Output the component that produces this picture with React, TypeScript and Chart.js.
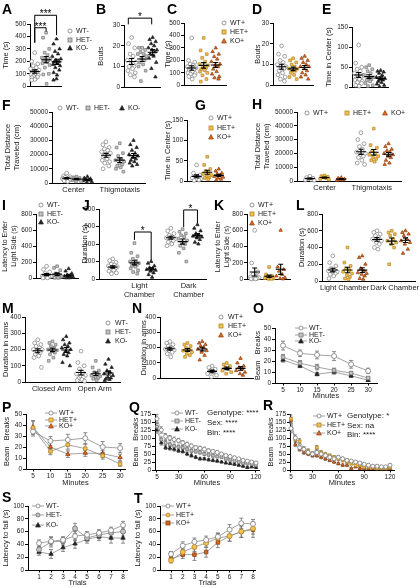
import React, { useEffect, useRef } from "react";
import { Chart, registerables } from "chart.js";
Chart.register(...registerables);

const FONT = "'Liberation Sans', Arial, Helvetica, sans-serif";
Chart.defaults.font.family = FONT;

// ---------------- DATA ----------------
// A: time (s)
const A_WT = [270, 200, 180, 165, 150, 140, 130, 120, 115, 110, 100, 95, 90, 80, 75, 70, 60, 55, 50];
const A_HET = [430, 390, 300, 270, 250, 230, 220, 215, 210, 200, 195, 185, 170, 150, 100, 95, 20];
const A_KO = [380, 340, 300, 280, 260, 240, 220, 210, 200, 195, 185, 175, 165, 150, 130, 110, 90, 60, 50];
// B: bouts
const B_WT = [24, 21, 19, 16, 15, 13, 12, 11, 10, 10, 9, 8, 7, 6, 5];
const B_HET = [19, 19, 18, 17, 16, 16, 15, 14, 13, 12, 11, 10, 8, 3];
const B_KO = [24, 23, 22, 21, 20, 19, 18, 18, 17, 16, 15, 14, 12, 9, 5];
// C: time (s)
const C_WT = [380, 200, 185, 170, 160, 150, 140, 130, 125, 120, 110, 100, 95, 90, 80, 70, 50];
const C_HET = [380, 280, 250, 220, 190, 170, 160, 150, 140, 130, 120, 110, 100, 80, 50, 30];
const C_KO = [300, 270, 250, 230, 210, 190, 170, 160, 150, 130, 110, 90, 70, 60, 50];
// D: bouts
const D_WT = [19, 15, 14, 12, 11, 10, 9, 9, 8, 7, 6, 5, 4, 3, 2];
const D_HET = [13, 12, 11, 10, 9, 8, 8, 7, 7, 6, 5, 4, 3];
const D_KO = [14, 13, 12, 11, 10, 9, 9, 8, 7, 6, 5, 4, 3];
// E: time in center
const E_WT = [105, 60, 50, 45, 40, 35, 30, 28, 25, 22, 20, 18, 15, 12, 10, 5, 3];
const E_HET = [55, 50, 45, 40, 35, 30, 25, 22, 20, 18, 15, 10, 5, 3];
const E_KO = [42, 40, 38, 35, 30, 25, 22, 20, 18, 15, 12, 8, 5, 2];
// F: distance (cm)
const F_C_WT = [7000, 5000, 4500, 4000, 3500, 3000, 3000, 2500, 2000, 1500, 1000];
const F_C_HET = [4500, 4000, 3500, 3000, 2500, 2000, 1500, 1000];
const F_C_KO = [4500, 3500, 3000, 2500, 2000, 1500, 1000, 500];
const F_T_WT = [29000, 27000, 25000, 24000, 23000, 22000, 21000, 20000, 19000, 18000, 17000, 16000, 15000, 14000, 12000, 10000];
const F_T_HET = [28000, 25000, 21000, 19000, 17000, 16000, 15000, 14000, 13000, 12000, 11000, 10000, 8000];
const F_T_KO = [30000, 27000, 25000, 23000, 21000, 20000, 19000, 18000, 17000, 16000, 15000, 14000, 13000, 12000];
// G: time in center
const G_WT = [40, 20, 15, 12, 10, 8, 6, 5, 3, 2];
const G_HET = [60, 40, 30, 25, 20, 18, 15, 12, 10, 8, 5];
const G_KO = [30, 25, 20, 18, 15, 12, 10, 8, 5, 3];
// H: distance (cm)
const H_C_WT = [3500, 2500, 2000, 1500, 1000, 800, 500];
const H_C_HET = [4000, 3500, 3000, 2500, 2000, 1500, 1000];
const H_C_KO = [2500, 2000, 1500, 1000, 800, 500];
const H_T_WT = [35000, 30000, 27000, 25000, 23000, 21000, 20000, 19000, 18000, 17000, 15000, 13000, 12000];
const H_T_HET = [38000, 26000, 24000, 22000, 20000, 19000, 18000, 17000, 16000, 15000, 14000];
const H_T_KO = [27000, 25000, 23000, 22000, 21000, 20000, 19000, 18000, 17000, 15000, 13000, 12000];
// I: latency
const I_WT = [150, 110, 80, 60, 40, 30, 25, 20, 15, 10, 5, 5];
const I_HET = [150, 130, 100, 60, 40, 30, 20, 15, 10, 5, 5];
const I_KO = [120, 90, 60, 40, 30, 25, 20, 15, 10, 5, 5];
// J: duration
const J_L_WT = [230, 210, 190, 170, 160, 150, 140, 130, 120, 110, 100, 90, 70, 60];
const J_L_HET = [410, 300, 260, 230, 210, 200, 180, 170, 160, 150, 140, 120, 100, 80, 60];
const J_L_KO = [200, 180, 150, 130, 120, 110, 100, 90, 70, 50, 20];
const J_D_WT = [580, 550, 520, 500, 480, 470, 460, 450, 440, 420, 400, 380];
const J_D_HET = [570, 540, 520, 500, 480, 460, 440, 420, 400, 380, 350, 300, 200];
const J_D_KO = [620, 580, 550, 520, 500, 490, 480, 470, 450, 420, 400];
// K: latency
const K_WT = [600, 200, 90, 60, 40, 30, 20, 15, 10, 5, 5, 5];
const K_HET = [150, 60, 40, 30, 20, 15, 10, 5, 5];
const K_KO = [600, 150, 120, 100, 60, 40, 20, 10, 5];
// L: duration
const L_L_WT = [300, 220, 180, 150, 130, 120, 110, 100, 90, 80, 60, 30];
const L_L_HET = [400, 220, 180, 150, 130, 110, 90, 70, 50, 30, 20];
const L_L_KO = [300, 280, 200, 150, 120, 100, 90, 80, 60, 30, 20];
const L_D_WT = [600, 580, 560, 540, 520, 500, 480, 460, 440, 400, 380];
const L_D_HET = [600, 580, 560, 540, 500, 480, 460, 440, 400, 200];
const L_D_KO = [600, 580, 560, 540, 500, 480, 460, 440, 380, 330];
// M: duration in arms
const M_C_WT = [260, 240, 230, 220, 210, 200, 200, 190, 180, 170, 160, 150, 90];
const M_C_HET = [250, 240, 230, 220, 210, 200, 195, 190, 180, 170, 150, 130];
const M_C_KO = [280, 260, 240, 230, 220, 210, 200, 190, 180, 170, 160, 120, 100];
const M_O_WT = [190, 120, 100, 80, 60, 50, 40, 35, 30, 20, 15, 10, 5];
const M_O_HET = [130, 90, 70, 60, 50, 40, 35, 30, 25, 20, 10];
const M_O_KO = [140, 110, 90, 70, 60, 50, 40, 30, 25, 20, 15, 10];
// N: duration in arms
const N_1_WT = [240, 230, 220, 210, 200, 190, 185, 180, 170, 160, 140];
const N_1_HET = [230, 220, 210, 200, 190, 180, 170, 160, 150, 140];
const N_1_KO = [240, 230, 220, 210, 200, 190, 180, 170, 150, 120];
const N_2_WT = [80, 70, 60, 50, 40, 30, 20, 10];
const N_2_HET = [100, 90, 80, 70, 60, 50, 40, 30];
const N_2_KO = [130, 100, 80, 70, 60, 50, 40, 30, 20];

// O / P: beam breaks per 5-min bin
const MIN6 = [5, 10, 15, 20, 25, 30];
const O_WT = [34, 27, 25.5, 24.5, 17, 11];
const O_WT_SE = [4, 3, 3.5, 4, 3.5, 2.5];
const O_HET = [23.5, 18, 14.5, 11.5, 9, 4.5];
const O_HET_SE = [2.5, 2.5, 2.5, 2, 1.5, 1];
const O_KO = [21, 15.5, 8, 10, 6.5, 2.5];
const O_KO_SE = [2, 1.5, 1.5, 2, 1.5, 1];
const P_WT = [34, 25.5, 26.5, 28, 20, 19];
const P_WT_SE = [4, 4, 5, 5, 5, 4];
const P_HET = [37.5, 16, 22, 18.5, 12, 4.5];
const P_HET_SE = [6, 3, 4, 4, 3, 2];
const P_KO = [38, 20, 13.5, 14.5, 14, 10.5];
const P_KO_SE = [6, 4, 3, 3, 3, 3];

// Q / R: 24 bins over 120 min
const MIN24 = [5, 10, 15, 20, 25, 30, 35, 40, 45, 50, 55, 60, 65, 70, 75, 80, 85, 90, 95, 100, 105, 110, 115, 120];
const Q_WT = [160, 125, 105, 100, 95, 92, 85, 80, 75, 70, 68, 65, 60, 58, 55, 50, 45, 42, 38, 35, 30, 28, 25, 22];
const Q_WT_SE = [14, 10, 9, 8, 8, 7, 7, 7, 6, 6, 6, 6, 6, 5, 5, 5, 5, 5, 5, 4, 4, 4, 4, 4];
const Q_HET = [135, 95, 85, 80, 75, 72, 70, 65, 60, 58, 55, 50, 48, 45, 42, 40, 35, 32, 28, 25, 22, 20, 18, 15];
const Q_HET_SE = [12, 8, 7, 7, 6, 6, 6, 6, 5, 5, 5, 5, 5, 5, 4, 4, 4, 4, 4, 4, 3, 3, 3, 3];
const Q_KO = [125, 85, 70, 68, 65, 60, 58, 50, 45, 40, 35, 35, 32, 30, 28, 25, 22, 20, 18, 15, 12, 8, 10, 8];
const Q_KO_SE = [10, 7, 6, 6, 6, 5, 5, 5, 5, 4, 4, 4, 4, 4, 4, 3, 3, 3, 3, 3, 3, 3, 3, 3];
const R_WT = [130, 100, 70, 65, 55, 50, 55, 50, 45, 40, 35, 40, 35, 30, 28, 25, 22, 18, 15, 12, 12, 10, 10, 15];
const R_WT_SE = [14, 10, 8, 7, 7, 6, 7, 6, 6, 5, 5, 5, 5, 5, 4, 4, 4, 4, 4, 3, 3, 3, 3, 4];
const R_HET = [160, 95, 90, 65, 60, 50, 70, 55, 50, 45, 40, 35, 30, 25, 20, 15, 15, 10, 10, 8, 5, 5, 5, 8];
const R_HET_SE = [12, 8, 8, 7, 6, 6, 7, 6, 5, 5, 5, 5, 4, 4, 4, 4, 3, 3, 3, 3, 3, 3, 3, 3];
const R_KO = [155, 80, 65, 55, 50, 45, 45, 40, 35, 30, 25, 20, 15, 15, 5, 10, 5, 5, 5, 5, 5, 5, 5, 5];
const R_KO_SE = [10, 7, 6, 6, 5, 5, 5, 5, 5, 4, 4, 4, 4, 3, 3, 3, 3, 2, 2, 2, 2, 2, 2, 2];

// S / T: rotarod
const TRIALS = [1, 2, 3, 4, 5, 6, 7, 8];
const S_WT = [42, 45, 47, 53, 55, 58, 62, 70];
const S_WT_SE = [5, 6, 5, 7, 5, 5, 5, 6];
const S_HET = [32, 44, 45, 65, 50, 55, 58, 60];
const S_HET_SE = [5, 8, 6, 8, 5, 6, 6, 7];
const S_KO = [28, 25, 35, 41, 48, 52, 50, 50];
const S_KO_SE = [5, 7, 6, 7, 6, 6, 8, 8];
const T_WT = [25, 38, 44, 47, 52, 63, 73, 72];
const T_WT_SE = [4, 6, 6, 6, 6, 8, 8, 7];
const T_HET = [15, 28, 36, 42, 50, 53, 60, 65];
const T_HET_SE = [4, 6, 7, 7, 7, 8, 9, 9];
const T_KO = [17, 24, 24, 28, 43, 53, 60, 63];
const T_KO_SE = [4, 6, 9, 8, 8, 8, 9, 12];

// tick labels
const YT_500 = [0, 100, 200, 300, 400, 500];
const YT_30 = [0, 10, 20, 30];
const YT_150 = [0, 50, 100, 150];
const YT_50K = [0, 10000, 20000, 30000, 40000, 50000];
const YT_800 = [0, 200, 400, 600, 800];
const YT_400 = [0, 100, 200, 300, 400];
const YT_50 = [0, 10, 20, 30, 40, 50];
const YT_175 = [0, 25, 50, 75, 100, 125, 150, 175];
const YT_100 = [0, 20, 40, 60, 80, 100];
const XT_6 = [5, 10, 15, 20, 25, 30];
const XT_24 = [5, 30, 60, 90, 120];
const XT_TR = [1, 2, 3, 4, 5, 6, 7, 8];

// ---------------- STYLES ----------------
type Sty = { bg: string; bd: string; shape: string };
const WT: Sty = { bg: "#ffffff", bd: "#7d7d7d", shape: "circle" };
const HETm: Sty = { bg: "#c4c4c4", bd: "#777777", shape: "rect" };
const HETmC: Sty = { bg: "#c4c4c4", bd: "#6a6a6a", shape: "circle" };
const KOm: Sty = { bg: "#222222", bd: "#222222", shape: "triangle" };
const HETp: Sty = { bg: "#f2c14e", bd: "#b3852a", shape: "rect" };
const HETpC: Sty = { bg: "#f2c14e", bd: "#b3852a", shape: "circle" };
const KOp: Sty = { bg: "#e06a1f", bd: "#8a3c0e", shape: "triangle" };
const KOpR: Sty = { bg: "#d8661e", bd: "#8a3c0e", shape: "rect" };

const JIT = [0, -1, 1, -0.5, 0.5, -1.4, 1.4, -0.2, 0.75, -0.8, 0.3, -1.2, 1.15, -0.4, 0.9, -0.95, 0.15];
const TXT = "#1a1a1a";

// ---------------- CONFIG BUILDERS ----------------
function yScale(s: any) {
  return {
    type: "linear",
    min: 0,
    max: s.yMax,
    afterBuildTicks: (sc: any) => {
      sc.ticks = s.yTicks.map((v: number) => ({ value: v }));
    },
    afterFit: (sc: any) => {
      sc.width = s.padL;
      sc.paddingTop = 0;
      sc.paddingBottom = 0;
    },
    grid: { display: true, drawOnChartArea: false, drawTicks: true, tickLength: 3, color: "#000", lineWidth: 1 },
    border: { display: true, color: "#000", width: 1 },
    ticks: { font: { family: FONT, size: 6.5 }, color: TXT, padding: 1, autoSkip: false, maxRotation: 0, callback: (v: any) => String(v) },
    title: { display: true, text: s.yTitle, font: { family: FONT, size: s.yTitleSize || 7.5 }, color: TXT, padding: 0 },
  };
}

function baseOptions(s: any, scales: any) {
  return {
    responsive: false,
    maintainAspectRatio: false,
    animation: false,
    devicePixelRatio: 1,
    events: [],
    layout: { padding: { top: s.padT, right: s.padR, left: 0, bottom: 0 } },
    plugins: { legend: { display: false }, tooltip: { enabled: false }, title: { display: false } },
    scales,
  };
}

function boxOf(s: any) {
  return {
    left: s.x0 - s.padL,
    top: s.y0 - s.padT,
    width: s.padL + (s.x1 - s.x0) + s.padR,
    height: s.padT + (s.y1 - s.y0) + s.padB,
  };
}

function dotConfig(s: any) {
  const datasets = s.groups.map((g: any) => ({
    type: "scatter",
    data: g.v.map((y: number, i: number) => ({ x: g.pos + JIT[i % JIT.length] * 0.32, y })),
    pointStyle: g.st.shape,
    pointRadius: g.st.shape === "triangle" ? 2.0 : 1.9,
    pointBackgroundColor: g.st.bg,
    pointBorderColor: g.st.bd,
    pointBorderWidth: 0.7,
    backgroundColor: g.st.bg,
    borderColor: g.st.bd,
    clip: false,
  }));
  const labels = s.xLabels || [];
  const plugin = {
    id: "meanSem",
    afterDatasetsDraw(chart: any) {
      const ctx = chart.ctx;
      const xs = chart.scales.x;
      const ys = chart.scales.y;
      ctx.save();
      ctx.strokeStyle = "#000";
      ctx.lineWidth = 1.1;
      for (const g of s.groups) {
        const n = g.v.length;
        const m = g.v.reduce((a: number, b: number) => a + b, 0) / n;
        const sd = Math.sqrt(g.v.reduce((a: number, b: number) => a + (b - m) * (b - m), 0) / (n - 1));
        const se = sd / Math.sqrt(n);
        const px = xs.getPixelForValue(g.pos);
        const pm = ys.getPixelForValue(m);
        const pa = ys.getPixelForValue(m + se);
        const pb = ys.getPixelForValue(Math.max(0, m - se));
        ctx.beginPath();
        ctx.moveTo(px - 5, pm);
        ctx.lineTo(px + 5, pm);
        ctx.moveTo(px, pa);
        ctx.lineTo(px, pb);
        ctx.moveTo(px - 2.5, pa);
        ctx.lineTo(px + 2.5, pa);
        ctx.moveTo(px - 2.5, pb);
        ctx.lineTo(px + 2.5, pb);
        ctx.stroke();
      }
      if (s.brackets) {
        ctx.lineWidth = 1;
        ctx.fillStyle = "#000";
        ctx.font = `10px ${FONT}`;
        ctx.textAlign = "center";
        ctx.textBaseline = "alphabetic";
        for (const b of s.brackets) {
          const xa = xs.getPixelForValue(b.a);
          const xb = xs.getPixelForValue(b.b);
          const py = ys.getPixelForValue(b.y);
          ctx.beginPath();
          ctx.moveTo(xa, ys.getPixelForValue(b.la));
          ctx.lineTo(xa, py);
          ctx.lineTo(xb, py);
          ctx.lineTo(xb, ys.getPixelForValue(b.lb));
          ctx.stroke();
          ctx.fillText(b.t, (xa + xb) / 2, py + 2);
        }
      }
      ctx.restore();
    },
  };
  const scales = {
    x: {
      type: "linear",
      min: 0,
      max: (s.x1 - s.x0) / 10,
      afterBuildTicks: (sc: any) => {
        sc.ticks = labels.length ? labels.map((l: any) => ({ value: l.pos })) : [{ value: 0 }];
      },
      afterFit: (sc: any) => {
        sc.height = s.padB;
        sc.paddingLeft = 0;
        sc.paddingRight = 0;
      },
      grid: { display: false, drawTicks: false },
      border: { display: true, color: "#000", width: 1 },
      ticks: {
        display: labels.length > 0,
        font: { family: FONT, size: 7.5 },
        color: TXT,
        padding: 2,
        autoSkip: false,
        maxRotation: 0,
        minRotation: 0,
        callback: (_v: any, i: number) => (labels[i] ? labels[i].text : ""),
      },
    },
    y: yScale(s),
  };
  return { type: "scatter", data: { datasets }, options: baseOptions(s, scales), plugins: [plugin] };
}

function lineConfig(s: any) {
  const datasets = s.series.map((sr: any) => ({
    type: "scatter",
    showLine: true,
    data: s.xs.map((x: number, i: number) => ({ x, y: sr.y[i] })),
    borderColor: "#8c8c8c",
    borderWidth: s.lw,
    pointStyle: sr.st.shape,
    pointRadius: s.r,
    pointBackgroundColor: sr.st.bg,
    pointBorderColor: sr.st.bd,
    pointBorderWidth: 0.8,
    backgroundColor: sr.st.bg,
    clip: false,
  }));
  const plugin = {
    id: "errBars",
    beforeDatasetsDraw(chart: any) {
      const ctx = chart.ctx;
      const xs = chart.scales.x;
      const ys = chart.scales.y;
      ctx.save();
      ctx.strokeStyle = "#6f6f6f";
      ctx.lineWidth = 0.8;
      for (const sr of s.series) {
        s.xs.forEach((x: number, i: number) => {
          const px = xs.getPixelForValue(x);
          const pa = ys.getPixelForValue(sr.y[i] + sr.se[i]);
          const pb = ys.getPixelForValue(Math.max(0, sr.y[i] - sr.se[i]));
          ctx.beginPath();
          ctx.moveTo(px, pa);
          ctx.lineTo(px, pb);
          ctx.moveTo(px - s.cap, pa);
          ctx.lineTo(px + s.cap, pa);
          ctx.moveTo(px - s.cap, pb);
          ctx.lineTo(px + s.cap, pb);
          ctx.stroke();
        });
      }
      ctx.restore();
    },
  };
  const scales = {
    x: {
      type: "linear",
      min: s.xMin,
      max: s.xMax,
      afterBuildTicks: (sc: any) => {
        sc.ticks = s.xTicks.map((v: number) => ({ value: v }));
      },
      afterFit: (sc: any) => {
        sc.height = s.padB;
        sc.paddingLeft = 0;
        sc.paddingRight = 0;
      },
      grid: { display: true, drawOnChartArea: false, drawTicks: true, tickLength: 2.5, color: "#000", lineWidth: 1 },
      border: { display: true, color: "#000", width: 1 },
      ticks: { font: { family: FONT, size: 6.5 }, color: TXT, padding: 1, autoSkip: false, maxRotation: 0, callback: (v: any) => String(v) },
      title: { display: true, text: s.xTitle, font: { family: FONT, size: 7.5 }, color: TXT, padding: 0 },
    },
    y: yScale(s),
  };
  return { type: "scatter", data: { datasets }, options: baseOptions(s, scales), plugins: [plugin] };
}

// ---------------- PANEL SPECS ----------------
const P3 = { padT: 6, padR: 3, padB: 3 };
const DOTS: any[] = [
  { ...P3, x0: 30, x1: 63, y0: 24, y1: 88, padL: 29, padT: 19, yMax: 500, yTicks: YT_500, yTitle: "Time (s)",
    groups: [{ pos: 0.5, v: A_WT, st: WT }, { pos: 1.7, v: A_HET, st: HETm }, { pos: 2.8, v: A_KO, st: KOm }],
    brackets: [{ a: 0.5, b: 2.8, y: 570, la: 350, lb: 410, t: "***" }, { a: 0.5, b: 1.7, y: 470, la: 350, lb: 440, t: "***" }] },
  { ...P3, x0: 124, x1: 162, y0: 25, y1: 89, padL: 28, padT: 15, yMax: 30, yTicks: YT_30, yTitle: "Bouts",
    groups: [{ pos: 0.8, v: B_WT, st: WT }, { pos: 1.9, v: B_HET, st: HETm }, { pos: 3.0, v: B_KO, st: KOm }],
    brackets: [{ a: 0.45, b: 2.9, y: 33.3, la: 30.3, lb: 30.3, t: "*" }] },
  { ...P3, x0: 184, x1: 228, y0: 23, y1: 87, padL: 21, yMax: 500, yTicks: YT_500, yTitle: "Time (s)",
    groups: [{ pos: 0.8, v: C_WT, st: WT }, { pos: 2.05, v: C_HET, st: HETp }, { pos: 3.3, v: C_KO, st: KOp }] },
  { ...P3, x0: 273, x1: 315, y0: 23, y1: 87, padL: 20, yMax: 30, yTicks: YT_30, yTitle: "Bouts",
    groups: [{ pos: 0.9, v: D_WT, st: WT }, { pos: 2.1, v: D_HET, st: HETp }, { pos: 3.3, v: D_KO, st: KOp }] },
  { ...P3, x0: 352, x1: 390, y0: 27, y1: 89, padL: 28, yMax: 150, yTicks: YT_150, yTitle: "Time in Center (s)",
    groups: [{ pos: 0.7, v: E_WT, st: WT }, { pos: 1.8, v: E_HET, st: HETm }, { pos: 3.0, v: E_KO, st: KOm }] },
  { ...P3, x0: 52, x1: 147, y0: 112, y1: 183, padL: 49, padB: 12, yMax: 50000, yTicks: YT_50K, yTitle: ["Total Distance", "Traveled (cm)"],
    groups: [{ pos: 1.5, v: F_C_WT, st: WT }, { pos: 2.5, v: F_C_HET, st: HETm }, { pos: 3.6, v: F_C_KO, st: KOm },
      { pos: 5.5, v: F_T_WT, st: WT }, { pos: 6.9, v: F_T_HET, st: HETm }, { pos: 8.3, v: F_T_KO, st: KOm }],
    xLabels: [{ pos: 2.2, text: "Center" }, { pos: 6.9, text: "Thigmotaxis" }] },
  { ...P3, x0: 187, x1: 232, y0: 120, y1: 183, padL: 24, yMax: 150, yTicks: YT_150, yTitle: "Time in Center (s)",
    groups: [{ pos: 1.0, v: G_WT, st: WT }, { pos: 2.1, v: G_HET, st: HETp }, { pos: 3.3, v: G_KO, st: KOp }] },
  { ...P3, x0: 297, x1: 403, y0: 112, y1: 181, padL: 44, padB: 12, yMax: 50000, yTicks: YT_50K, yTitle: ["Total Distance", "Traveled (cm)"],
    groups: [{ pos: 1.3, v: H_C_WT, st: WT }, { pos: 2.8, v: H_C_HET, st: HETp }, { pos: 4.5, v: H_C_KO, st: KOp },
      { pos: 6.5, v: H_T_WT, st: WT }, { pos: 7.8, v: H_T_HET, st: HETp }, { pos: 9.3, v: H_T_KO, st: KOp }],
    xLabels: [{ pos: 2.8, text: "Center" }, { pos: 7.6, text: "Thigmotaxis" }] },
  { ...P3, x0: 36, x1: 80, y0: 214, y1: 280, padL: 35, yMax: 800, yTicks: YT_800, yTitle: ["Latency to Enter", "Light Side (s)"], yTitleSize: 7,
    groups: [{ pos: 1.1, v: I_WT, st: WT }, { pos: 2.2, v: I_HET, st: HETm }, { pos: 3.4, v: I_KO, st: KOm }] },
  { ...P3, x0: 99, x1: 208, y0: 209, y1: 279, padL: 19, padT: 12, padB: 22, yMax: 800, yTicks: YT_800, yTitle: "Duration (s)",
    groups: [{ pos: 1.4, v: J_L_WT, st: WT }, { pos: 3.6, v: J_L_HET, st: HETm }, { pos: 5.3, v: J_L_KO, st: KOm },
      { pos: 7.3, v: J_D_WT, st: WT }, { pos: 8.5, v: J_D_HET, st: HETm }, { pos: 10.0, v: J_D_KO, st: KOm }],
    xLabels: [{ pos: 4.1, text: ["Light", "Chamber"] }, { pos: 9.1, text: ["Dark", "Chamber"] }],
    brackets: [{ a: 3.6, b: 5.3, y: 537, la: 446, lb: 217, t: "*" }, { a: 8.6, b: 10.0, y: 789, la: 594, lb: 640, t: "*" }] },
  { ...P3, x0: 247, x1: 292, y0: 214, y1: 281, padL: 33, yMax: 800, yTicks: YT_800, yTitle: ["Latency to Enter", "Light Side (s)"], yTitleSize: 7,
    groups: [{ pos: 0.8, v: K_WT, st: WT }, { pos: 2.3, v: K_HET, st: HETp }, { pos: 3.5, v: K_KO, st: KOp }] },
  { ...P3, x0: 322, x1: 417, y0: 214, y1: 281, padL: 25, padB: 12, yMax: 800, yTicks: YT_800, yTitle: "Duration (s)",
    groups: [{ pos: 1.1, v: L_L_WT, st: WT }, { pos: 2.6, v: L_L_HET, st: HETp }, { pos: 4.1, v: L_L_KO, st: KOp },
      { pos: 5.6, v: L_D_WT, st: WT }, { pos: 7.1, v: L_D_HET, st: HETp }, { pos: 8.5, v: L_D_KO, st: KOp }],
    xLabels: [{ pos: 2.3, text: "Light Chamber" }, { pos: 7.4, text: "Dark Chamber" }] },
  { ...P3, x0: 25, x1: 122, y0: 317, y1: 382, padL: 24, padB: 12, yMax: 400, yTicks: YT_400, yTitle: "Duration in arms",
    groups: [{ pos: 1.3, v: M_C_WT, st: WT }, { pos: 2.8, v: M_C_HET, st: HETm }, { pos: 4.2, v: M_C_KO, st: KOm },
      { pos: 5.7, v: M_O_WT, st: WT }, { pos: 7.2, v: M_O_HET, st: HETm }, { pos: 8.5, v: M_O_KO, st: KOm }],
    xLabels: [{ pos: 2.7, text: "Closed Arm" }, { pos: 7.1, text: "Open Arm" }] },
  { ...P3, x0: 160, x1: 255, y0: 317, y1: 380, padL: 21, yMax: 400, yTicks: YT_400, yTitle: "Duration in arms",
    groups: [{ pos: 1.0, v: N_1_WT, st: WT }, { pos: 2.8, v: N_1_HET, st: HETp }, { pos: 4.3, v: N_1_KO, st: KOp },
      { pos: 5.3, v: N_2_WT, st: WT }, { pos: 6.8, v: N_2_HET, st: HETp }, { pos: 8.2, v: N_2_KO, st: KOp }] },
];

const L6 = { padT: 6, padR: 6, padB: 17, padL: 24, r: 2.5, lw: 0.8, cap: 2 };
const LINES: any[] = [
  { ...L6, x0: 275, x1: 377, y0: 328, y1: 383, padL: 22, xMin: 2.65, xMax: 32.6, xs: MIN6, xTicks: XT_6, yMax: 50, yTicks: YT_50,
    yTitle: "Beam   Breaks", xTitle: "Minutes",
    series: [{ y: O_WT, se: O_WT_SE, st: WT }, { y: O_HET, se: O_HET_SE, st: HETm }, { y: O_KO, se: O_KO_SE, st: KOm }] },
  { ...L6, x0: 26, x1: 125, y0: 414, y1: 469, padB: 18, xMin: 2.99, xMax: 31.4, xs: MIN6, xTicks: XT_6, yMax: 50, yTicks: YT_50,
    yTitle: "Beam   Breaks", xTitle: "Minutes",
    series: [{ y: P_WT, se: P_WT_SE, st: WT }, { y: P_HET, se: P_HET_SE, st: HETp }, { y: P_KO, se: P_KO_SE, st: KOp }] },
  { ...L6, x0: 155, x1: 259, y0: 414, y1: 470, r: 2.0, lw: 0.6, cap: 1.5, xMin: 2.7, xMax: 123.5, xs: MIN24, xTicks: XT_24, yMax: 175, yTicks: YT_175,
    yTitle: "Beam   Breaks", xTitle: "Minutes",
    series: [{ y: Q_WT, se: Q_WT_SE, st: WT }, { y: Q_HET, se: Q_HET_SE, st: HETm }, { y: Q_KO, se: Q_KO_SE, st: KOm }] },
  { ...L6, x0: 290, x1: 394, y0: 414, y1: 470, r: 2.0, lw: 0.6, cap: 1.5, xMin: 3.84, xMax: 124.6, xs: MIN24, xTicks: XT_24, yMax: 175, yTicks: YT_175,
    yTitle: "Beam   Breaks", xTitle: "Minutes",
    series: [{ y: R_WT, se: R_WT_SE, st: WT }, { y: R_HET, se: R_HET_SE, st: HETp }, { y: R_KO, se: R_KO_SE, st: KOp }] },
  { ...L6, x0: 28, x1: 127, y0: 506, y1: 570, padL: 27, xMin: 0.08, xMax: 8.33, xs: TRIALS, xTicks: XT_TR, yMax: 100, yTicks: YT_100,
    yTitle: "Latency to fall (s)", xTitle: "Trials",
    series: [{ y: S_WT, se: S_WT_SE, st: WT }, { y: S_HET, se: S_HET_SE, st: HETmC }, { y: S_KO, se: S_KO_SE, st: KOm }] },
  { ...L6, x0: 160, x1: 255, y0: 506, y1: 570, padL: 27, xMin: 0.06, xMax: 8.17, xs: TRIALS, xTicks: XT_TR, yMax: 100, yTicks: YT_100,
    yTitle: "Latency to fall (s)", xTitle: "Trials",
    series: [{ y: T_WT, se: T_WT_SE, st: WT }, { y: T_HET, se: T_HET_SE, st: HETpC }, { y: T_KO, se: T_KO_SE, st: KOpR }] },
];

const LETTERS: [string, number, number][] = [
  ["A", 2, 2], ["B", 96, 2], ["C", 167, 2], ["D", 252, 2], ["E", 322, 2],
  ["F", 2, 98], ["G", 195, 98], ["H", 252, 96.5],
  ["I", 2, 198], ["J", 82, 198], ["K", 214, 198], ["L", 296, 198],
  ["M", 2, 301], ["N", 132, 301], ["O", 253, 301],
  ["P", 2, 400], ["Q", 129, 400], ["R", 263, 398],
  ["S", 2, 490], ["T", 134, 491],
];

type LegItem = { st: Sty; label: string; sx: number; tx: number; y: number; line?: boolean };
function vleg(items: [Sty, string][], sx: number, tx: number, ys: number[], line = false): LegItem[] {
  return items.map(([st, label], i) => ({ st, label, sx, tx, y: ys[i], line }));
}
const MINUS: [Sty, string][] = [[WT, "WT-"], [HETm, "HET-"], [KOm, "KO-"]];
const PLUS: [Sty, string][] = [[WT, "WT+"], [HETp, "HET+"], [KOp, "KO+"]];

const LEGENDS: LegItem[] = [
  ...vleg(MINUS, 70, 76, [31, 39.5, 48]),
  ...vleg(PLUS, 224, 230, [23, 32, 41]),
  { st: WT, label: "WT-", sx: 60, tx: 66, y: 108 },
  { st: HETm, label: "HET-", sx: 88, tx: 94, y: 108 },
  { st: KOm, label: "KO-", sx: 122, tx: 128, y: 108 },
  ...vleg(PLUS, 211, 217, [118, 128, 137]),
  { st: WT, label: "WT+", sx: 307, tx: 313, y: 113 },
  { st: HETp, label: "HET+", sx: 347, tx: 353, y: 113 },
  { st: KOp, label: "KO+", sx: 385, tx: 391, y: 113 },
  ...vleg(MINUS, 41, 47, [205, 214, 222]),
  ...vleg(PLUS, 252, 258, [205, 214, 223]),
  ...vleg(MINUS, 108, 115, [323, 332, 341]),
  ...vleg(PLUS, 221, 228, [317, 326, 335]),
  ...vleg(MINUS, 301, 309, [328, 334.5, 341], true),
  ...vleg(PLUS, 51, 59, [413, 419.5, 426], true),
  ...vleg(MINUS, 177, 185, [413, 421, 429], true),
  ...vleg(PLUS, 319, 327, [416, 424.5, 432.5], true),
  ...vleg([[WT, "WT-"], [HETmC, "HET-"], [KOm, "KO-"]], 38, 46, [506, 515, 524.5], true),
  ...vleg([[WT, "WT+"], [HETpC, "HET+"], [KOpR, "KO+"]], 168, 176, [506, 514.5, 523], true),
];

const STATS: [string, number, number][] = [
  ["Genotype: ****", 207, 413], ["Sex: ****", 207, 423], ["Bin: ****", 207, 433],
  ["Genotype: *", 347, 416], ["Sex: na", 347, 425.5], ["Bin: ****", 347, 434.5],
];

// ---------------- COMPONENTS ----------------
function ChartBox({ box, make }: { box: any; make: () => any }) {
  const ref = useRef<HTMLCanvasElement>(null);
  useEffect(() => {
    const chart = new Chart(ref.current as HTMLCanvasElement, make());
    return () => chart.destroy();
  }, []);
  return (
    <canvas
      ref={ref}
      width={box.width}
      height={box.height}
      style={{ position: "absolute", left: box.left, top: box.top, width: box.width, height: box.height }}
    />
  );
}

function Sym({ st, x, y, line }: { st: Sty; x: number; y: number; line?: boolean }) {
  const w = line ? 12 : 6;
  const h = 6;
  const cx = w / 2;
  const cy = 3;
  const r = 2.0;
  let shape;
  if (st.shape === "circle") shape = <circle cx={cx} cy={cy} r={r} fill={st.bg} stroke={st.bd} strokeWidth={0.8} />;
  else if (st.shape === "rect") shape = <rect x={cx - r} y={cy - r} width={2 * r} height={2 * r} fill={st.bg} stroke={st.bd} strokeWidth={0.8} />;
  else shape = <polygon points={`${cx},${cy - r - 0.5} ${cx + r + 0.4},${cy + r} ${cx - r - 0.4},${cy + r}`} fill={st.bg} stroke={st.bd} strokeWidth={0.7} />;
  return (
    <svg width={w} height={h} style={{ position: "absolute", left: x - w / 2, top: y - h / 2, overflow: "visible" }}>
      {line ? <line x1={0} y1={cy} x2={w} y2={cy} stroke="#8c8c8c" strokeWidth={0.8} /> : null}
      {shape}
    </svg>
  );
}

export default function App() {
  return (
    <div
      style={{
        position: "fixed",
        left: 0,
        top: 0,
        width: 420,
        height: 588,
        background: "#ffffff",
        overflow: "hidden",
        fontFamily: FONT,
        color: TXT,
      }}
    >
      {DOTS.map((s, i) => (
        <ChartBox key={"d" + i} box={boxOf(s)} make={() => dotConfig(s)} />
      ))}
      {LINES.map((s, i) => (
        <ChartBox key={"l" + i} box={boxOf(s)} make={() => lineConfig(s)} />
      ))}
      {LETTERS.map(([t, x, y]) => (
        <div key={"t" + t} style={{ position: "absolute", left: x, top: y, fontSize: 14, lineHeight: "14px", fontWeight: 700, color: "#000" }}>
          {t}
        </div>
      ))}
      {LEGENDS.map((it, i) => (
        <React.Fragment key={"g" + i}>
          <Sym st={it.st} x={it.sx} y={it.y} line={it.line} />
          <div style={{ position: "absolute", left: it.tx, top: it.y - 4, fontSize: 7, lineHeight: "8px", whiteSpace: "pre" }}>{it.label}</div>
        </React.Fragment>
      ))}
      {STATS.map(([t, x, y], i) => (
        <div key={"s" + i} style={{ position: "absolute", left: x, top: y - 5, fontSize: 8, lineHeight: "10px", whiteSpace: "pre" }}>
          {t}
        </div>
      ))}
    </div>
  );
}
